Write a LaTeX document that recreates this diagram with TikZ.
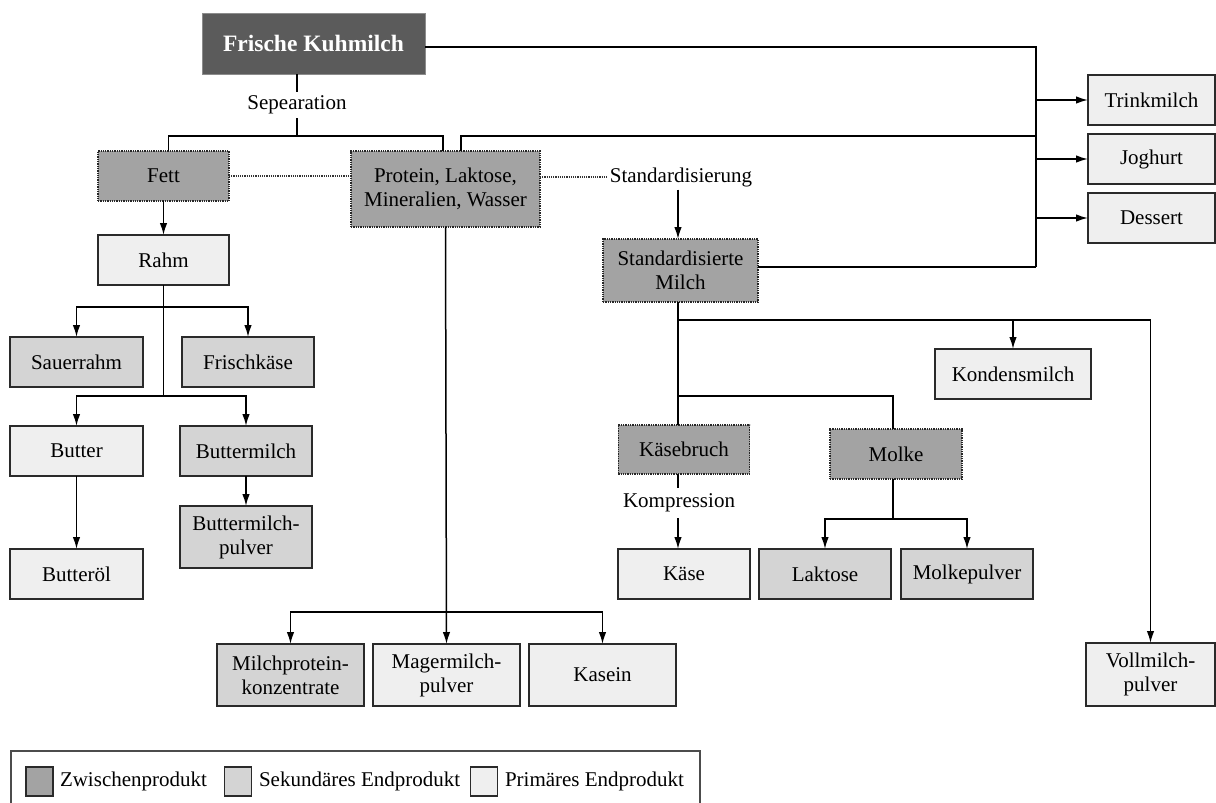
\documentclass[tikz,border=0pt]{standalone}
\usepackage{fontspec}
\setmainfont{Liberation Serif}
\usetikzlibrary{arrows.meta,calc}
\definecolor{cdark}{HTML}{5B5B5B}
\definecolor{czw}{HTML}{A3A3A3}
\definecolor{csek}{HTML}{D4D4D4}
\definecolor{cprim}{HTML}{EFEFEF}
\definecolor{cline}{HTML}{2A2A2A}
\tikzset{
  base/.style={inner sep=0pt, outer sep=0pt, align=center, font=\fontsize{21}{24}\selectfont, text=black},
  topbox/.style={base, fill=cdark, draw=cdark!70!white, line width=1pt, text=white, font=\fontsize{23.5}{26}\selectfont\bfseries},
  zwbox/.style={base, fill=czw, draw=black!85, densely dotted, line width=1.3pt},
  sekbox/.style={base, fill=csek, draw=cline, line width=1.5pt},
  primbox/.style={base, fill=cprim, draw=cline, line width=1.5pt},
  con/.style={draw=black, line width=1.5pt},
  arr/.style={con, -{Latex[length=12pt,width=7.5pt]}},
  dotline/.style={draw=black!80, densely dotted, line width=1.2pt},
  sq/.style={base, minimum width=27pt, minimum height=29pt, draw=cline, line width=1.3pt}
}
\begin{document}
\begin{tikzpicture}[x=1pt,y=-1pt]
\useasboundingbox (0,0) rectangle (1216,803);
% nodes
\node[topbox, minimum width=223pt, minimum height=61pt] (fk) at (313.5,43.5) {Frische Kuhmilch};
\node[base, minimum height=26pt] (sep) at (297,105) {Sepearation};
\node[zwbox, minimum width=131pt, minimum height=50pt] (fett) at (163.5,176) {Fett};
\node[zwbox, minimum width=189pt, minimum height=76pt] (prot) at (445.5,189) {Protein, Laktose,\\Mineralien, Wasser};
\node[base, inner sep=3pt] (stdlbl) at (681,177) {Standardisierung};
\node[primbox, minimum width=127pt, minimum height=50pt] (trink) at (1151.5,100) {Trinkmilch};
\node[primbox, minimum width=127pt, minimum height=50pt] (jog) at (1151.5,159) {Joghurt};
\node[primbox, minimum width=127pt, minimum height=50pt] (dess) at (1151.5,218) {Dessert};
\node[primbox, minimum width=131pt, minimum height=50pt] (rahm) at (163.5,260) {Rahm};
\node[zwbox, minimum width=155pt, minimum height=63pt] (std) at (680.5,270.5) {Standardisierte\\Milch};
\node[sekbox, minimum width=133pt, minimum height=50pt] (sauer) at (76.5,362) {Sauerrahm};
\node[sekbox, minimum width=132pt, minimum height=50pt] (frisch) at (248,362) {Frischkäse};
\node[primbox, minimum width=133pt, minimum height=50pt] (butter) at (76.5,451) {Butter};
\node[sekbox, minimum width=132pt, minimum height=50pt] (bm) at (246,451) {Buttermilch};
\node[primbox, minimum width=133pt, minimum height=50pt] (butteroel) at (76.5,574) {Butteröl};
\node[sekbox, minimum width=132pt, minimum height=62pt] (bmp) at (246,537) {Buttermilch-\\pulver};
\node[primbox, minimum width=156pt, minimum height=50pt] (kond) at (1013,374) {Kondensmilch};
\node[zwbox, minimum width=131.5pt, minimum height=49pt] (kbruch) at (684,449.5) {Käsebruch};
\node[zwbox, minimum width=132pt, minimum height=50pt] (molke) at (896,454) {Molke};
\node[base, minimum height=30pt] (komp) at (679,503) {Kompression};
\node[primbox, minimum width=132pt, minimum height=50pt] (kaese) at (684,574) {Käse};
\node[sekbox, minimum width=132pt, minimum height=50pt] (lakt) at (825,574) {Laktose};
\node[sekbox, minimum width=132pt, minimum height=50pt] (mpulv) at (967,574) {Molkepulver};
\node[sekbox, minimum width=147pt, minimum height=62pt] (mpk) at (290.5,675) {Milchprotein-\\konzentrate};
\node[primbox, minimum width=147pt, minimum height=62pt] (mager) at (446.5,675) {Magermilch-\\pulver};
\node[primbox, minimum width=147pt, minimum height=62pt] (kasein) at (602.5,675) {Kasein};
\node[primbox, minimum width=129pt, minimum height=63pt] (voll) at (1150.5,674.5) {Vollmilch-\\pulver};
% junctions
\coordinate (j1) at (297,136);
\coordinate (jr1) at (1036,47);
\coordinate (jr2) at (1036,136);
\coordinate (jr3) at (1036,267);
\coordinate (j2) at (163.5,307);
\coordinate (j3) at (163.5,396);
\coordinate (j4) at (445.5,612);
\coordinate (j5) at (678,320);
\coordinate (j6) at (678,396);
\coordinate (j7) at (893,519);
% connectors top
\draw[con] (fk.south -| sep) -- (sep.north);
\draw[con] (sep.south) -- (j1);
\draw[con] ($(fett.north)+(5,0)$) |- (j1) -| ($(prot.north)+(-2.5,0)$);
\draw[con] ($(prot.north)+(15.5,0)$) |- (jr2);
\draw[con] (fk.east |- jr1) -- (jr1) -- (jr3);
\draw[con] (std.east |- jr3) -- (jr3);
\draw[arr] (trink.west -| jr1) -- (trink.west);
\draw[arr] (jog.west -| jr1) -- (jog.west);
\draw[arr] (dess.west -| jr1) -- (dess.west);
\draw[dotline] (fett.east) -- (fett.east -| prot.west);
\draw[dotline] (prot.east |- stdlbl.west) -- (stdlbl.west);
\draw[arr] (stdlbl.south -| j5) -- (std.north -| j5);
% left branch
\draw[arr] (fett.south) -- (rahm.north);
\draw[con] (rahm.south) -- (j3);
\draw[arr] (j2) -| (sauer.north);
\draw[arr] (j2) -| (frisch.north);
\draw[arr] (j3) -| (butter.north);
\draw[arr] (j3) -| (bm.north);
\draw[arr] (butter.south) -- (butteroel.north);
\draw[arr] (bm.south) -- (bmp.north);
% protein branch
\draw[arr] (prot.south) -- (mager.north);
\draw[arr] (j4) -| (mpk.north);
\draw[arr] (j4) -| (kasein.north);
% standardised milk branch
\draw[con] (std.south -| j5) -- (j5) -- (j6) -- (kbruch.north -| j6);
\draw[arr] (j5) -| (voll.north);
\draw[arr] (j5 -| kond) -- (kond.north);
\draw[con] (j6) -| ($(molke.north)+(-3,0)$);
\draw[con] (kbruch.south -| j5) -- (komp.north -| j5);
\draw[arr] (komp.south -| j5) -- (kaese.north -| j5);
\draw[con] ($(molke.south)+(-3,0)$) -- (j7);
\draw[arr] (j7) -| (lakt.north);
\draw[arr] (j7) -| (mpulv.north);
% legend
\draw[draw=black!70, line width=1.3pt] (11,805) -- (11,751) -- (700,751) -- (700,805);
\node[sq, fill=czw] (lq1) at (39.5,781.5) {};
\node[base, anchor=west] (lt1) at (60,781.5) {Zwischenprodukt};
\node[sq, fill=csek] (lq2) at (238,781.5) {};
\node[base, anchor=west] (lt2) at (259,781.5) {Sekundäres Endprodukt};
\node[sq, fill=cprim] (lq3) at (484,781.5) {};
\node[base, anchor=west] (lt3) at (505,781.5) {Primäres Endprodukt};
\end{tikzpicture}
\end{document}
